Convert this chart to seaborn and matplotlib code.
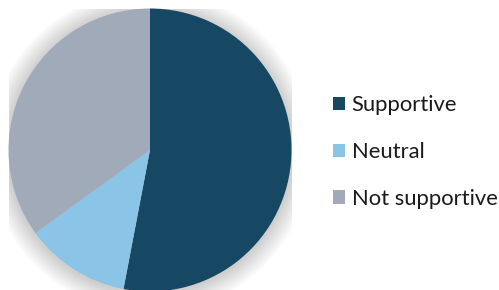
import matplotlib
matplotlib.use("Agg")
import matplotlib.pyplot as plt
import seaborn as sns
from matplotlib.patches import Circle, Patch

categories = ["Supportive", "Neutral", "Not supportive"]
values = [53, 12, 35]
colors = ["#164763", "#8AC4E6", "#A0AAB8"]

sns.set_theme(style="white")
plt.rcParams['font.family'] = ['Lato', 'DejaVu Sans']
palette = sns.color_palette(colors)

fig = plt.figure(figsize=(4.99, 2.90), dpi=100)
ax = fig.add_axes([8.5/499, -1.5/290, 283/499, 283/290])
ax.set_xlim(-1, 1)
ax.set_ylim(-1, 1)
ax.set_aspect('equal')
ax.axis('off')

# soft shadow
for i in range(12):
    r = 1.0 + 0.012 * (i + 1)
    ax.add_patch(Circle((0.0, -0.01), r, color='black', alpha=0.014, lw=0, zorder=0))

wedges, _ = ax.pie(values, colors=palette, startangle=90, counterclock=False,
                   radius=1.0, wedgeprops=dict(linewidth=0))
for w in wedges:
    w.set_zorder(2)
ax.set_xlim(-1, 1)
ax.set_ylim(-1, 1)

handles = [Patch(facecolor=c, edgecolor='none') for c in palette]
fig.legend(handles, categories, loc='center left', bbox_to_anchor=(333/499, (290 - 152)/290),
           frameon=False, fontsize=15.8, handlelength=0.55, handleheight=0.55,
           handletextpad=0.3, labelspacing=1.22, borderpad=0, borderaxespad=0,
           labelcolor='#1a1a1a')

fig.savefig("out.png", dpi=100)
